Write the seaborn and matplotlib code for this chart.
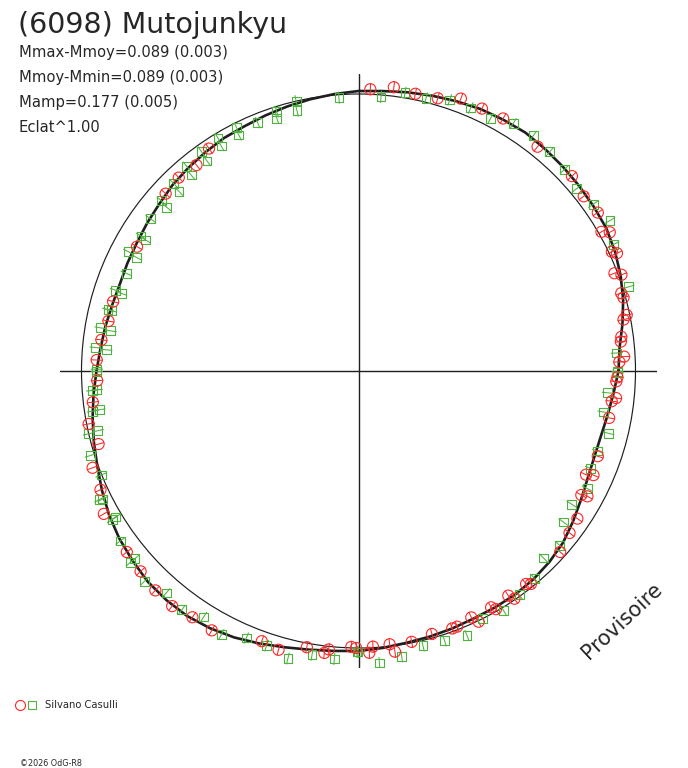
import numpy as np
import pandas as pd
import matplotlib
matplotlib.use("Agg")
import matplotlib.pyplot as plt
import seaborn as sns
from matplotlib.lines import Line2D
from matplotlib.patches import Circle
from matplotlib.collections import LineCollection
from matplotlib.legend_handler import HandlerTuple

# ---------------- text ----------------
TITLE = "(6098) Mutojunkyu"
STATS = ["Mmax-Mmoy=0.089 (0.003)", "Mmoy-Mmin=0.089 (0.003)",
         "Mamp=0.177 (0.005)", "Eclat^1.00"]
OBSERVER = "Silvano Casulli"
COPYRIGHT = "\u00a92026 OdG-R8"
WATERMARK = "Provisoire"

# ---------------- data (rotation angle in degrees, polar radius in arbitrary units) ----------------
red_angle = [87.6, 82.9, 78.4, 73.8, 69.4, 64.8, 60.2, 51.4, 42.4, 37.8, 33.5, 29.8, 28.9, 25.2, 24.5,
             20.9, 20.1, 16.5, 15.5, 11.0, 11.8, 7.4, 6.4, 3.1, 2.0,
             123.9, 128.2, 132.9, 137.4, 150.7, 164.2, 168.7, 173.1, 177.6,
             182.1, 186.7, 191.1, 195.7, 200.0, 204.7, 209.3, 218.0, 222.6, 227.2, 231.6, 236.0, 240.5,
             250.3, 254.0, 259.4, 263.1, 263.9, 268.5,
             269.5, 272.2, 273.0, 276.5, 277.4, 281.1, 285.6, 290.0, 291.1, 294.6, 295.6, 299.3, 300.0,
             303.7, 304.4, 308.2, 309.0, 318.1, 322.5, 326.0, 331.3, 330.9, 335.5, 336.1, 340.4,
             349.4, 353.2, 354.0, 357.7, 358.6]
red_radius = [282, 286, 283, 284, 291, 290, 291, 287, 289, 285, 287, 280, 287, 280, 284,
              274, 280, 274, 275, 270, 274, 265, 264, 266, 261,
              268, 262, 264, 262, 254, 255, 255, 259, 262,
              261.5, 267.5, 275, 270, 283, 284, 292, 294, 296, 299, 300, 297, 298,
              287, 290, 281, 284, 280, 276,
              277, 282, 276, 275, 283, 276, 273, 274, 274, 271, 278, 271, 275,
              270, 276, 271, 274, 271, 266, 264, 261, 255, 250, 257, 254,
              255, 255, 259, 258, 259]

green_angle = [85.3, 80.5, 76.1, 71.4, 66.9, 62.4, 58.0, 53.4, 48.9, 44.4, 39.9, 35.4, 30.9, 26.4,
               17.3, 4.0, 359.9,
               94.1, 103.0, 103.3, 107.5, 107.9, 112.1, 116.6, 116.9, 121.1, 121.4, 125.6, 125.8,
               130.0, 130.5, 134.6, 135.0, 139.2, 139.5, 143.8, 148.2, 148.4, 152.6, 152.9, 157.2,
               161.6, 161.9, 166.2, 166.3, 170.5, 170.8, 174.9, 175.2, 179.6,
               180.1, 184.2, 184.1, 188.6, 188.5, 193.1, 192.9, 197.5, 202.0, 206.4, 206.6, 211.0,
               211.1, 215.5, 220.0, 220.0, 224.5, 229.1, 233.5, 237.8, 242.5, 247.2, 251.5, 256.2,
               260.7, 265.2, 269.7,
               269.9, 274.1, 278.6, 283.2, 287.7, 292.3, 296.6, 301.2, 305.7, 310.3, 314.7, 319.1,
               323.6, 328.0, 332.8, 337.2, 341.5, 346.0, 350.5, 355.0, 359.6]
green_radius = [275, 282, 281, 286, 286, 285, 292, 293, 291, 288, 284, 288, 293, 285,
                283, 259, 259,
                274, 277, 267.5, 272, 265.6, 268, 272, 264.6, 272, 263.6, 270, 259,
                267, 257.7, 263.5, 254, 260.6, 252, 258, 256, 250, 259, 249, 252,
                256, 249.7, 258, 254.5, 261.6, 251, 264, 253, 261.7,
                261.7, 267, 262.4, 268.7, 261.9, 277, 267.4, 281, 277.6, 289, 286, 283.6,
                287.7, 292.6, 297.6, 292, 300, 293.7, 297, 290.8, 297, 289.7, 289.6, 296,
                287.5, 289, 281,
                281, 292.8, 288.6, 282, 283, 286, 277, 279.8, 275.6, 272.2, 263, 266,
                254.6, 251.4, 257.2, 251.7, 252.4, 257.6, 248.4, 250.3, 259.3]

fit_angle = list(range(0, 360, 5))
fit_radius = [260, 262, 268, 274, 279, 283, 286, 287, 288, 289, 290, 291, 290, 289, 287, 285,
              283, 281, 280, 278, 276, 274, 272, 270, 269, 267, 265, 263, 260, 258, 256, 255,
              254, 255, 257, 259, 262, 266, 270, 274, 278, 283, 288, 292, 295, 298, 299, 299,
              297, 294, 290, 286, 283, 281, 280, 278, 276, 275, 274, 273, 273, 273, 272, 270,
              267, 262, 257, 253, 251, 251, 253, 256]

REF_RADIUS = 277     # reference circle
ERR_HALF = 6         # radial error-bar half length

RED = "#ff2626"
GREEN = "#4db33d"
INK = "#1e1e1e"
TXT = "#262626"

# ---------------- figure ----------------
sns.set_theme(style="white")
plt.rcParams["font.family"] = ["DejaVu Sans"]

fig = plt.figure(figsize=(6.88, 7.68), dpi=100)
ax = fig.add_axes([60 / 688, 100 / 768, 597 / 688, 594 / 768])
ax.set_xlim(-298.5, 298.5)
ax.set_ylim(-297, 297)
ax.axis("off")

ax.axhline(0, color=INK, lw=1.0, zorder=1)
ax.axvline(0, color=INK, lw=1.0, zorder=1)
ax.add_patch(Circle((0, 0), REF_RADIUS, fill=False, ec=INK, lw=0.85, zorder=1))

# fitted curve
fa = np.deg2rad(np.append(fit_angle, fit_angle[0]))
fr = np.append(fit_radius, fit_radius[0])
fit_df = pd.DataFrame({"x": fr * np.cos(fa), "y": fr * np.sin(fa)})
sns.lineplot(data=fit_df, x="x", y="y", sort=False, estimator=None, color=INK, lw=1.9,
             ax=ax, zorder=2)


def polar_frame(angle, radius):
    a = np.deg2rad(np.asarray(angle, float))
    r = np.asarray(radius, float)
    return pd.DataFrame({"x": r * np.cos(a), "y": r * np.sin(a), "a": a, "r": r})


def radial_bars(df, color):
    lo = df["r"] - ERR_HALF
    hi = df["r"] + ERR_HALF
    segs = np.stack([np.column_stack([lo * np.cos(df["a"]), lo * np.sin(df["a"])]),
                     np.column_stack([hi * np.cos(df["a"]), hi * np.sin(df["a"])])], axis=1)
    ax.add_collection(LineCollection(segs, colors=color, linewidths=0.75, zorder=4))


green_df = polar_frame(green_angle, green_radius)
red_df = polar_frame(red_angle, red_radius)

sns.scatterplot(data=green_df, x="x", y="y", marker="s", s=40, color=GREEN,
                facecolor="none", edgecolor=GREEN, linewidth=0.8, ax=ax, zorder=5)
radial_bars(green_df, GREEN)
sns.scatterplot(data=red_df, x="x", y="y", marker="o", s=64, color=RED,
                facecolor="none", edgecolor=RED, linewidth=0.8, ax=ax, zorder=6)
radial_bars(red_df, RED)

# ---------------- texts ----------------
fig.text(18 / 688, 1 - 33 / 768, TITLE, fontsize=20.5, color=TXT, va="baseline")
for i, line in enumerate(STATS):
    fig.text(19 / 688, 1 - (57 + 25 * i) / 768, line, fontsize=10.6, color=TXT,
             va="baseline")

fig.text(622 / 688, 1 - 621 / 768, WATERMARK, fontsize=15, rotation=43, color=TXT,
         ha="center", va="center", rotation_mode="anchor")

h_c = Line2D([], [], ls="none", marker="o", ms=7.2, mfc="none", mec=RED, mew=0.8)
h_s = Line2D([], [], ls="none", marker="s", ms=5.2, mfc="none", mec=GREEN, mew=0.8)
fig.legend(handles=[(h_c, h_s)], labels=[OBSERVER],
           handler_map={tuple: HandlerTuple(ndivide=None, pad=0.45)},
           loc="center left", bbox_to_anchor=(16 / 688, 1 - 705 / 768),
           frameon=False, fontsize=7.2, handlelength=2.0, handletextpad=0.9,
           borderpad=0, borderaxespad=0, labelcolor=TXT)

fig.text(20 / 688, 1 - 766 / 768, COPYRIGHT, fontsize=5.8, color=TXT, va="baseline")

fig.savefig("out.png", dpi=100, facecolor="white")
